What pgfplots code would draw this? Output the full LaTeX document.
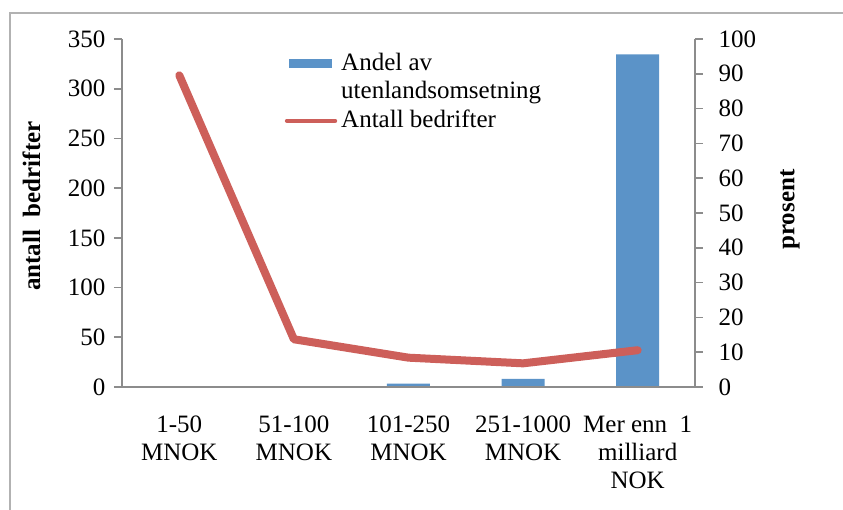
\documentclass[border=0pt]{standalone}
\usepackage{pgfplots}
\pgfplotsset{compat=1.18}
\usepackage{fontspec}
\setmainfont{Liberation Serif}
\definecolor{barblue}{HTML}{5B93C8}
\definecolor{linered}{HTML}{CD5F5A}
\definecolor{axgray}{HTML}{8C8C8C}
\begin{document}
\fontsize{12.5bp}{13bp}\selectfont
\begin{tikzpicture}
\useasboundingbox (-61bp,-61.5bp) rectangle (360.5bp,193.5bp);
\draw[gray!60, line width=1.2bp] (-56bp,-70bp) -- (-56bp,187bp) -- (370bp,187bp);
\pgfplotsset{
  every axis/.append style={
    scale only axis, width=286.5bp, height=174bp,
    at={(0,0)}, anchor=south west,
    xmin=0.5, xmax=5.5,
    /pgf/number format/assume math mode=true,
    tick align=outside,
    axis line style={axgray, line width=0.8bp},
    every tick/.style={axgray, line width=0.8bp},
    major tick length=4bp,
    font=\fontsize{12.5bp}{13bp}\selectfont,
  }
}
% right axis: bars (prosent)
\begin{axis}[
  axis y line*=right, axis x line=none,
  ymin=0, ymax=100, ytick={0,10,...,100},
  yticklabel style={xshift=3.5bp},
  ylabel={\textbf{prosent}},
  every axis y label/.style={at={(axis description cs:1.166,0.51)}, rotate=90, anchor=center},
]
\addplot[ybar, bar width=21.5bp, fill=barblue, draw=none] coordinates {
 (1,0.1) (2,0.2) (3,1.0) (4,2.3) (5,95.6)
};
\end{axis}
% left axis: line (antall bedrifter)
\begin{axis}[
  axis y line*=left, axis x line*=bottom,
  ymin=0, ymax=350, ytick={0,50,...,350},
  xtick={1,2,3,4,5},
  xticklabels={{1-50\\MNOK},{51-100\\MNOK},{101-250\\MNOK},{251-1000\\MNOK},{Mer enn\ \ 1\\milliard\\NOK}},
  xticklabel style={align=center, yshift=-6bp, font=\fontsize{12.5bp}{14bp}\selectfont},
  x tick style={draw=none},
  minor xtick={0.5,1.5,2.5,3.5,4.5,5.5},
  minor tick length=4bp,
  every minor tick/.style={axgray, line width=0.8bp},
  ylabel={\textbf{antall\ \ bedrifter}},
  every axis y label/.style={at={(axis description cs:-0.158,0.52)}, rotate=90, anchor=center},
  legend style={draw=none, fill=none, at={(0.28,0.978)}, anchor=north west,
    cells={anchor=west, align=left}, row sep=0bp, inner sep=1bp,
    font=\fontsize{12.5bp}{14bp}\selectfont},
]
\addlegendimage{area legend, legend image code/.code={\fill[barblue] (0bp,5bp) rectangle (21bp,9bp);}}
\addlegendentry{Andel av\\utenlandsomsetning}
\addplot[linered, line width=4bp, line join=round, line cap=round,
  legend image code/.code={\draw[linered, line width=2.2bp] (-1bp,0bp) -- (23bp,0bp);}] coordinates {
 (1,313.5) (2,48) (3,29.5) (4,23.8) (5,37)
};
\addlegendentry{Antall bedrifter}
\end{axis}
\end{tikzpicture}
\end{document}
